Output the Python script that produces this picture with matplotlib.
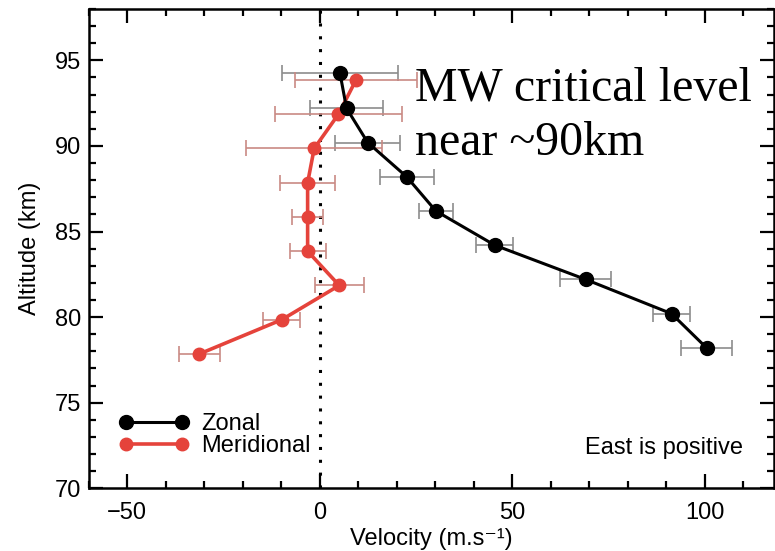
import numpy as np
import matplotlib
matplotlib.use("Agg")
import matplotlib.pyplot as plt
from matplotlib.ticker import MultipleLocator

plt.rcParams['font.family'] = ['Liberation Sans', 'DejaVu Sans']

# values
alt_zonal = [94.25, 92.2, 90.2, 88.2, 86.2, 84.2, 82.2, 80.2, 78.2]
u_zonal = [5.3, 7.0, 12.5, 22.6, 30.2, 45.5, 69.1, 91.4, 100.5]
err_zonal = [15.0, 9.5, 8.5, 7.0, 4.4, 4.8, 6.6, 4.9, 6.7]

alt_merid = [93.85, 91.85, 89.85, 87.85, 85.85, 83.85, 81.85, 79.85, 77.85]
v_merid = [9.45, 4.9, -1.4, -3.1, -3.1, -3.1, 5.1, -9.8, -31.2]
err_merid = [15.8, 16.4, 17.6, 7.1, 4.0, 4.7, 6.4, 4.8, 5.4]

fig = plt.figure(figsize=(7.75, 5.51), dpi=100)
ax = fig.add_axes([0.1142, 0.1138, 0.8845, 0.8699])

ax.axvline(0, color='k', lw=2.2, ls=(0, (1, 3.2)), zorder=1)

ax.errorbar(u_zonal, alt_zonal, xerr=err_zonal, fmt='none', ecolor='#8c8c8c',
            elinewidth=1.2, capsize=6, capthick=1.2, zorder=2)
ax.errorbar(v_merid, alt_merid, xerr=err_merid, fmt='none', ecolor='#c98a84',
            elinewidth=1.2, capsize=6, capthick=1.2, zorder=2)

ax.plot(u_zonal, alt_zonal, '-o', color='k', lw=2.2, ms=10, label='Zonal', zorder=4)
ax.plot(v_merid, alt_merid, '-o', color='#e5433b', lw=2.6, ms=9,
        label='Meridional', zorder=3)

ax.set_xlim(-60, 118)
ax.set_ylim(70, 98)
ax.xaxis.set_major_locator(MultipleLocator(50))
ax.xaxis.set_minor_locator(MultipleLocator(10))
ax.yaxis.set_major_locator(MultipleLocator(5))
ax.yaxis.set_minor_locator(MultipleLocator(1))
ax.tick_params(which='both', direction='in', top=True, right=True, width=1.6,
               labelsize=17)
ax.tick_params(which='major', length=10)
ax.tick_params(which='minor', length=5)
ax.tick_params(axis='x', pad=10)
ax.tick_params(axis='y', pad=5)
for s in ax.spines.values():
    s.set_linewidth(1.8)

ax.set_xlabel('Velocity (m.s⁻¹)', fontsize=17, labelpad=3)
ax.set_ylabel('Altitude (km)', fontsize=17, labelpad=10)

ax.legend(loc='lower left', bbox_to_anchor=(0.03, 0.046), frameon=False,
          fontsize=17, numpoints=2, handlelength=3.0, handletextpad=0.5,
          labelspacing=0.0, borderaxespad=0)

ax.text(0.955, 0.084, 'East is positive', transform=ax.transAxes, ha='right',
        va='center', fontsize=17)

fig.text(415 / 775, 1 - 100 / 551, 'MW critical level', family='Liberation Serif',
         fontsize=34.5, va='baseline', ha='left')
fig.text(415 / 775, 1 - 155 / 551, 'near ~90km', family='Liberation Serif',
         fontsize=34.5, va='baseline', ha='left')

fig.savefig('out.png', dpi=100)
